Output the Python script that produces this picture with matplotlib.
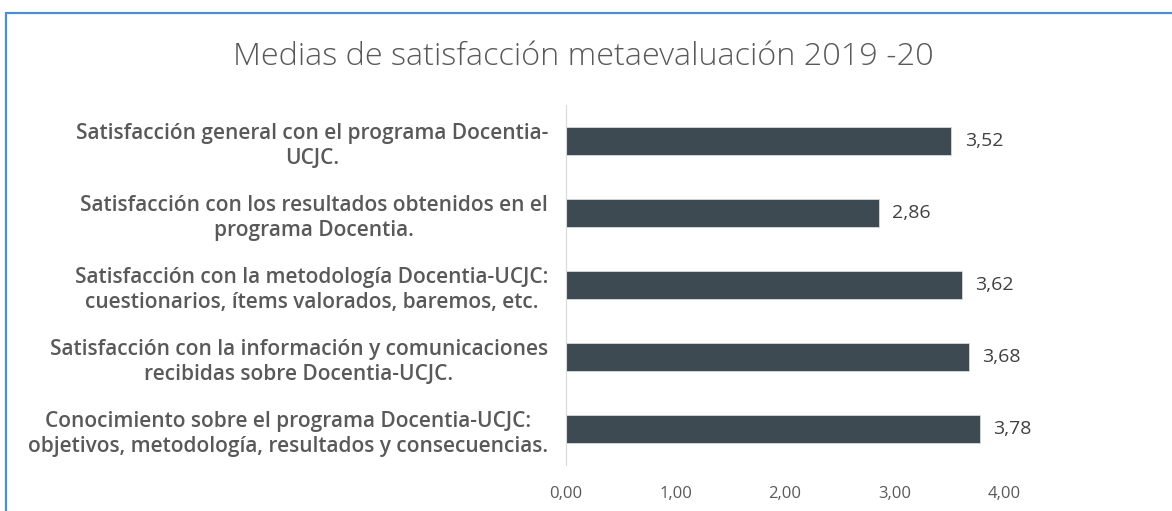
import matplotlib
matplotlib.use("Agg")
import matplotlib.pyplot as plt
from matplotlib.patches import Rectangle

title = "Medias de satisfacción metaevaluación 2019 -20"
categories = [
    "Satisfacción general con el programa Docentia-\nUCJC.",
    "Satisfacción con los resultados obtenidos en el\nprograma Docentia.",
    "Satisfacción con la metodología Docentia-UCJC:\ncuestionarios, ítems valorados, baremos, etc.",
    "Satisfacción con la información y comunicaciones\nrecibidas sobre Docentia-UCJC.",
    "Conocimiento sobre el programa Docentia-UCJC:\nobjetivos, metodología, resultados y consecuencias.",
]
values = [3.52, 2.86, 3.62, 3.68, 3.78]
xticks = [0, 1, 2, 3, 4]
xticklabels = ["0,00", "1,00", "2,00", "3,00", "4,00"]

FONT = "Open Sans"
W, H = 1172, 511
fig = plt.figure(figsize=(W / 100, H / 100), dpi=100)
fig.patch.set_facecolor("white")

# border frame
fig.add_artist(Rectangle((6 / W, -0.1), 1.2, 1 - 13 / H + 0.1, transform=fig.transFigure,
                         fill=False, edgecolor="#4A8FD6", linewidth=1.6))

ax = fig.add_axes([566 / W, 1 - 465 / H, (1004 - 566) / W, 360 / H])
ypos = list(range(len(categories)))
ax.barh(ypos, values, height=0.38, color="#3E4A52", edgecolor="#D9D9D9", linewidth=0.6)
ax.set_ylim(len(categories) - 0.5, -0.5)
ax.set_xlim(0, 4)
ax.set_yticks(ypos)
ax.set_yticklabels(categories, fontsize=15, family=FONT, fontweight="semibold",
                   color="#595959", linespacing=1.3, multialignment="center")
ax.tick_params(axis="y", length=0, pad=13)
ax.set_xticks(xticks)
ax.set_xticklabels(xticklabels, fontsize=12, family=FONT, color="#595959")
ax.tick_params(axis="x", length=0, pad=15)
for s in ["top", "right", "bottom"]:
    ax.spines[s].set_visible(False)
ax.spines["left"].set_color("#D9D9D9")
for y, v in zip(ypos, values):
    ax.text(v + 0.12, y, f"{v:.2f}".replace(".", ","), va="center", ha="left",
            fontsize=14, family=FONT, color="#404040")

fig.text(583 / W, 1 - 57 / H, title, ha="center", va="center", fontsize=23.3,
         family=FONT, fontweight="light", color="#595959")

fig.savefig("out.png", dpi=100)
